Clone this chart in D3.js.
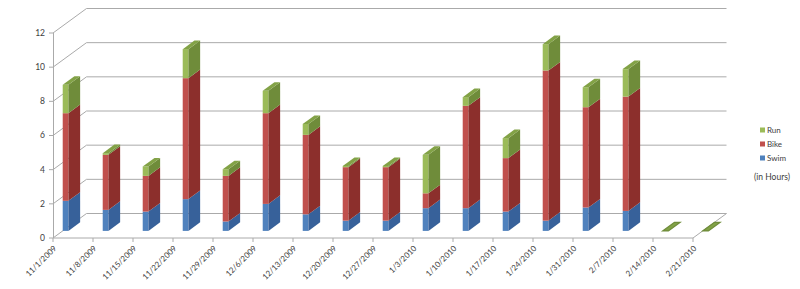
<!DOCTYPE html>
<html>
<head>
<meta charset="utf-8">
<script src="https://cdn.jsdelivr.net/npm/d3@7"></script>
<style>
  body { margin: 0; background: #fff; }
  text { font-family: Lato, "Open Sans", sans-serif; fill: #404040; }
</style>
</head>
<body>
<svg id="chart" width="800" height="289"></svg>
<script>
// weeks and hours per discipline
var weeks = ["11/1/2009", "11/8/2009", "11/15/2009", "11/22/2009", "11/29/2009", "12/6/2009",
  "12/13/2009", "12/20/2009", "12/27/2009", "1/3/2010", "1/10/2010", "1/17/2010",
  "1/24/2010", "1/31/2010", "2/7/2010", "2/14/2010", "2/21/2010"];
var swim = [1.76, 1.23, 1.13, 1.86, 0.55, 1.58, 0.97, 0.6, 0.6, 1.33, 1.33, 1.13, 0.6, 1.37, 1.17, 0, 0];
var bike = [5.13, 3.22, 2.09, 7.08, 2.67, 5.31, 4.65, 3.13, 3.13, 0.87, 5.99, 3.13, 8.79, 5.87, 6.69, 0, 0];
var run  = [1.66, 0.1, 0.55, 1.7, 0.39, 1.31, 0.64, 0.07, 0.07, 2.25, 0.51, 1.17, 1.54, 1.17, 1.61, 0, 0];
var seriesNames = ["Swim", "Bike", "Run"];
var yTicks = [0, 2, 4, 6, 8, 10, 12];

var colors = {
  Swim: {front: "#4f81bd", side: "#37619a", top: "#4674ab"},
  Bike: {front: "#c0504d", side: "#8c2f2c", top: "#a53f3c"},
  Run:  {front: "#9bbb59", side: "#6f8c3a", top: "#82a246"}
};

var svg = d3.select("#chart");

var x = d3.scalePoint().domain(weeks).range([53, 693]),
    y = d3.scaleLinear().domain([0, 12]).range([238, 33]);

// depth offsets of the 3D box
var DX = 33.5, DY = -24.5;
var z0 = 0.29, z1 = 0.64, barW = 5.7;

function px(xv, z) { return xv + z * DX; }
function py(yv, z) { return yv + z * DY; }

var rows = weeks.map(function(w, i) {
  return {week: w, Swim: swim[i], Bike: bike[i], Run: run[i]};
});
var stacked = d3.stack().keys(seriesNames)(rows);

var grid = svg.append("g").attr("fill", "none").attr("stroke", "#aaaaaa").attr("stroke-width", 1);

// side wall + back wall gridlines
grid.selectAll("polyline.grid")
  .data(yTicks)
  .enter().append("polyline")
    .attr("class", "grid")
    .attr("points", function(v) {
      var yy = y(v);
      return [[x.range()[0], yy], [px(x.range()[0], 1), py(yy, 1)], [px(x.range()[1], 1), py(yy, 1)]].join(" ");
    });

// floor front + right edges
grid.append("polyline")
  .attr("points", [[x.range()[0], y(0)], [x.range()[1], y(0)], [px(x.range()[1], 1), py(y(0), 1)]].join(" "));

// y axis line and ticks
grid.append("line")
  .attr("x1", 53.5).attr("x2", 53.5).attr("y1", y(12)).attr("y2", y(0));
grid.selectAll("line.ytick")
  .data(yTicks)
  .enter().append("line")
    .attr("class", "ytick")
    .attr("x1", 49).attr("x2", 53)
    .attr("y1", function(v) { return y(v); })
    .attr("y2", function(v) { return y(v); });

// x ticks
grid.selectAll("line.xtick")
  .data(weeks)
  .enter().append("line")
    .attr("class", "xtick")
    .attr("x1", function(d) { return x(d); })
    .attr("x2", function(d) { return x(d); })
    .attr("y1", y(0)).attr("y2", y(0) + 4);

svg.append("g").selectAll("text")
  .data(yTicks)
  .enter().append("text")
    .attr("x", 45)
    .attr("y", function(v) { return y(v); })
    .attr("dy", "0.35em")
    .attr("text-anchor", "end")
    .style("font-size", "8.5px")
    .text(function(v) { return v; });

svg.append("g").selectAll("text")
  .data(weeks)
  .enter().append("text")
    .attr("transform", function(d) { return "translate(" + (x(d) + 4) + "," + (y(0) + 11) + ") rotate(-45)"; })
    .attr("text-anchor", "end")
    .style("font-size", "8px")
    .text(function(d) { return d; });

// bars
var bars = svg.append("g");
weeks.forEach(function(w, i) {
  var xl = x(w), xr = xl + barW;
  var g = bars.append("g");
  var topKey = null, topVal = 0;
  stacked.forEach(function(s) {
    var d = s[i], c = colors[s.key];
    if (d[1] - d[0] > 0) { topKey = s.key; }
    topVal = d[1];
    if (d[1] - d[0] <= 0) return;
    var ya = y(d[0]), yb = y(d[1]);
    g.append("rect")
      .attr("x", px(xl, z0)).attr("y", py(yb, z0))
      .attr("width", barW).attr("height", ya - yb)
      .attr("fill", c.front);
    g.append("polygon")
      .attr("points", [[px(xr, z0), py(ya, z0)], [px(xr, z1), py(ya, z1)],
                       [px(xr, z1), py(yb, z1)], [px(xr, z0), py(yb, z0)]].join(" "))
      .attr("fill", c.side);
  });
  var key = topKey || "Run", yt = y(topVal);
  g.append("polygon")
    .attr("points", [[px(xl, z0), py(yt, z0)], [px(xr, z0), py(yt, z0)],
                     [px(xr, z1), py(yt, z1)], [px(xl, z1), py(yt, z1)]].join(" "))
    .attr("fill", colors[key].top)
    .attr("stroke", topKey ? "none" : colors[key].side)
    .attr("stroke-width", topKey ? 0 : 1.2);
});

// legend
var legend = svg.append("g").attr("transform", "translate(760,130)");
var legendItems = legend.selectAll("g")
  .data(seriesNames.slice().reverse())
  .enter().append("g")
    .attr("transform", function(d, i) { return "translate(0," + (i * 14) + ")"; });
legendItems.append("rect")
  .attr("x", 0).attr("y", -2.5).attr("width", 5).attr("height", 5)
  .attr("fill", function(d) { return colors[d].front; });
legendItems.append("text")
  .attr("x", 7).attr("y", 0).attr("dy", "0.35em")
  .style("font-size", "8px")
  .text(function(d) { return d; });
legend.append("text")
  .attr("x", 12).attr("y", 47).attr("dy", "0.35em")
  .attr("text-anchor", "middle")
  .style("font-size", "8.5px")
  .text("(in Hours)");
</script>
</body>
</html>
